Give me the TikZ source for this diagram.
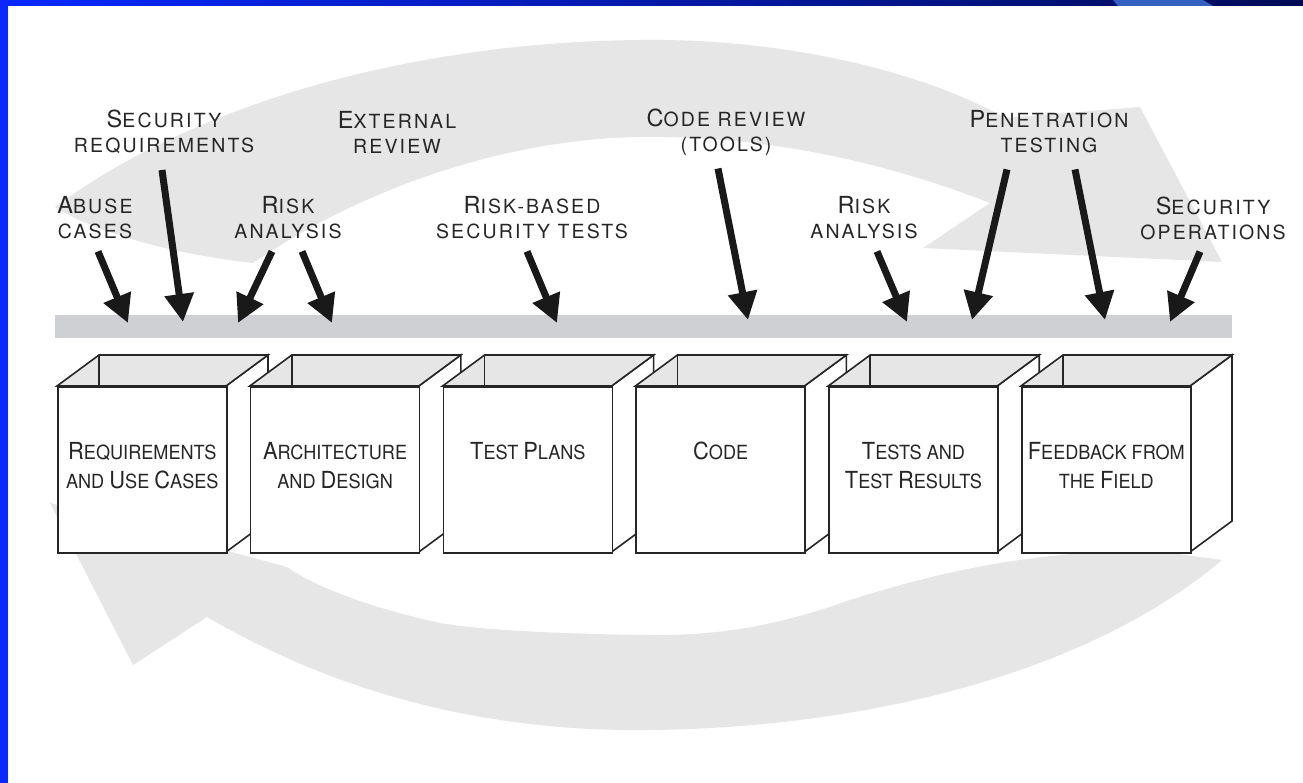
\documentclass[tikz,border=0pt]{standalone}
\usepackage{fontspec}
\usepackage{tikz}
\usetikzlibrary{arrows.meta,calc,positioning}
\newfontfamily\labelfont[LetterSpace=11]{TeX Gyre Heros}
\newfontfamily\stagefont[FakeStretch=0.93]{TeX Gyre Heros}
\newcommand{\firstcap}[1]{{\fontsize{23.5}{25}\selectfont#1}}
\definecolor{FrameBlue}{HTML}{0A28FF}
\definecolor{FrameMid}{HTML}{0416C0}
\definecolor{FrameNavy}{HTML}{000B55}
\definecolor{FrameLight}{HTML}{3460C2}
\definecolor{LoopGray}{HTML}{E6E6E6}
\definecolor{BarGray}{HTML}{CFD0D4}
\definecolor{EdgeBlack}{HTML}{262626}

\begin{document}
\begin{tikzpicture}[x=1pt,y=-1pt,>={Triangle[length=28pt,width=28pt]},
  lbl/.style={align=center,inner sep=0pt,text=black!85,
    font=\labelfont\fontsize{19.5}{25}\selectfont},
  stagetxt/.style={align=center,inner sep=0pt,anchor=north,text=black!85,
    font=\stagefont\fontsize{19.5}{29}\selectfont},
  front/.style={draw=EdgeBlack,fill=white,line width=1.6pt,inner sep=0pt,
    minimum width=169pt,minimum height=166pt},
  edge/.style={draw=EdgeBlack,line width=1.6pt},
  push/.style={->,line width=7pt,black!90}]
  \useasboundingbox (0,0) rectangle (1303,783);
  \fill[white] (0,0) rectangle (1303,783);

  \fill[LoopGray] (55,207) .. controls (200,100) and (420,42) .. (640,40)
    .. controls (780,38) and (920,70) .. (1005,118) -- (1140,107) -- (1222,262)
    -- (923,248) -- (990,203) .. controls (880,160) and (760,135) .. (637,137)
    .. controls (500,140) and (360,190) .. (253,263)
    .. controls (180,255) and (100,235) .. (55,207) -- cycle;
  \fill[LoopGray] (50,503) -- (133,665) -- (207,617)
    .. controls (350,700) and (500,732) .. (650,730)
    .. controls (850,728) and (1080,680) .. (1222,560) -- (1150,550)
    .. controls (1020,552) and (930,575) .. (850,600)
    .. controls (780,625) and (720,636) .. (650,635)
    .. controls (560,634) and (480,630) .. (440,623)
    .. controls (380,610) and (320,590) .. (287,567) -- cycle;

  \fill[BarGray] (55,315) rectangle (1232,338);

  \foreach \i/\txt in {0/{\firstcap{R}EQUIREMENTS\\AND \firstcap{U}SE \firstcap{C}ASES},
      1/{\firstcap{A}RCHITECTURE\\AND \firstcap{D}ESIGN},
      2/{\firstcap{T}EST \firstcap{P}LANS},3/{\firstcap{C}ODE},
      4/{\firstcap{T}ESTS AND\\\firstcap{T}EST \firstcap{R}ESULTS},
      5/{\firstcap{F}EEDBACK FROM\\THE \firstcap{F}IELD}}{
    \pgfmathsetmacro\bx{57+192.8*\i}
    \draw[edge,fill=white] (\bx+169,386) -- ++(42,-31) -- ++(0,166) -- ++(-42,31) -- cycle;
    \draw[edge,fill=LoopGray] (\bx,386) -- ++(42,-31) -- ++(169,0) -- ++(-42,31) -- cycle;
    \draw[edge] (\bx+42,355) -- (\bx+42,386);
    \node[front,anchor=north west] (box\i) at (\bx,386) {};
    \node[stagetxt] (name\i) at ($(box\i.north)+(0,56)$) {\txt};
  }

  \node[lbl] (abuse) at (95,218) {\firstcap{A}BUSE\\CASES};
  \node[lbl] (secreq) at (164,132) {\firstcap{S}ECURITY\\REQUIREMENTS};
  \node[lbl] (extrev) at (397,132) {\firstcap{E}XTERNAL\\REVIEW};
  \node[lbl] (riska) at (288,218) {\firstcap{R}ISK\\ANALYSIS};
  \node[lbl] (rbtests) at (532,218) {\firstcap{R}ISK-BASED\\SECURITY TESTS};
  \node[lbl] (codrev) at (726,132) {\firstcap{C}ODE REVIEW\\(TOOLS)};
  \node[lbl] (riskb) at (864,218) {\firstcap{R}ISK\\ANALYSIS};
  \node[lbl] (pentest) at (1049,132) {\firstcap{P}ENETRATION\\TESTING};
  \node[lbl] (secops) at (1213,218) {\firstcap{S}ECURITY\\OPERATIONS};

  \coordinate (t1) at (128,323);
  \coordinate (t2) at (183,322);
  \coordinate (t3) at (238,323);
  \coordinate (t4) at (332,323);
  \coordinate (t5) at (557,323);
  \coordinate (t6) at (748,320);
  \coordinate (t7) at (907,322);
  \coordinate (t8) at (972,320);
  \coordinate (t9) at (1105,320);
  \coordinate (t10) at (1170,322);

  \draw[push] ($(abuse.south)+(3,12)$) -- (t1);
  \draw[push] ($(secreq.south)+(-2,16)$) -- (t2);
  \draw[push] ($(riska.south)+(-16,12)$) -- (t3);
  \draw[push] ($(riska.south)+(14,12)$) -- (t4);
  \draw[push] ($(rbtests.south)+(-5,12)$) -- (t5);
  \draw[push] ($(codrev.south)+(-8,13)$) -- (t6);
  \draw[push] ($(riskb.south)+(13,12)$) -- (t7);
  \draw[push] ($(pentest.south)+(-42,16)$) -- (t8);
  \draw[push] ($(pentest.south)+(26,16)$) -- (t9);
  \draw[push] ($(secops.south)+(-13,12)$) -- (t10);

  \shade[left color=FrameBlue,middle color=FrameMid,right color=FrameNavy] (0,0) rectangle (1303,6);
  \fill[FrameLight] (1113,0) -- (1203,0) -- (1213,6) -- (1118,6) -- cycle;
  \fill[FrameBlue] (0,0) rectangle (8,783);
\end{tikzpicture}
\end{document}
